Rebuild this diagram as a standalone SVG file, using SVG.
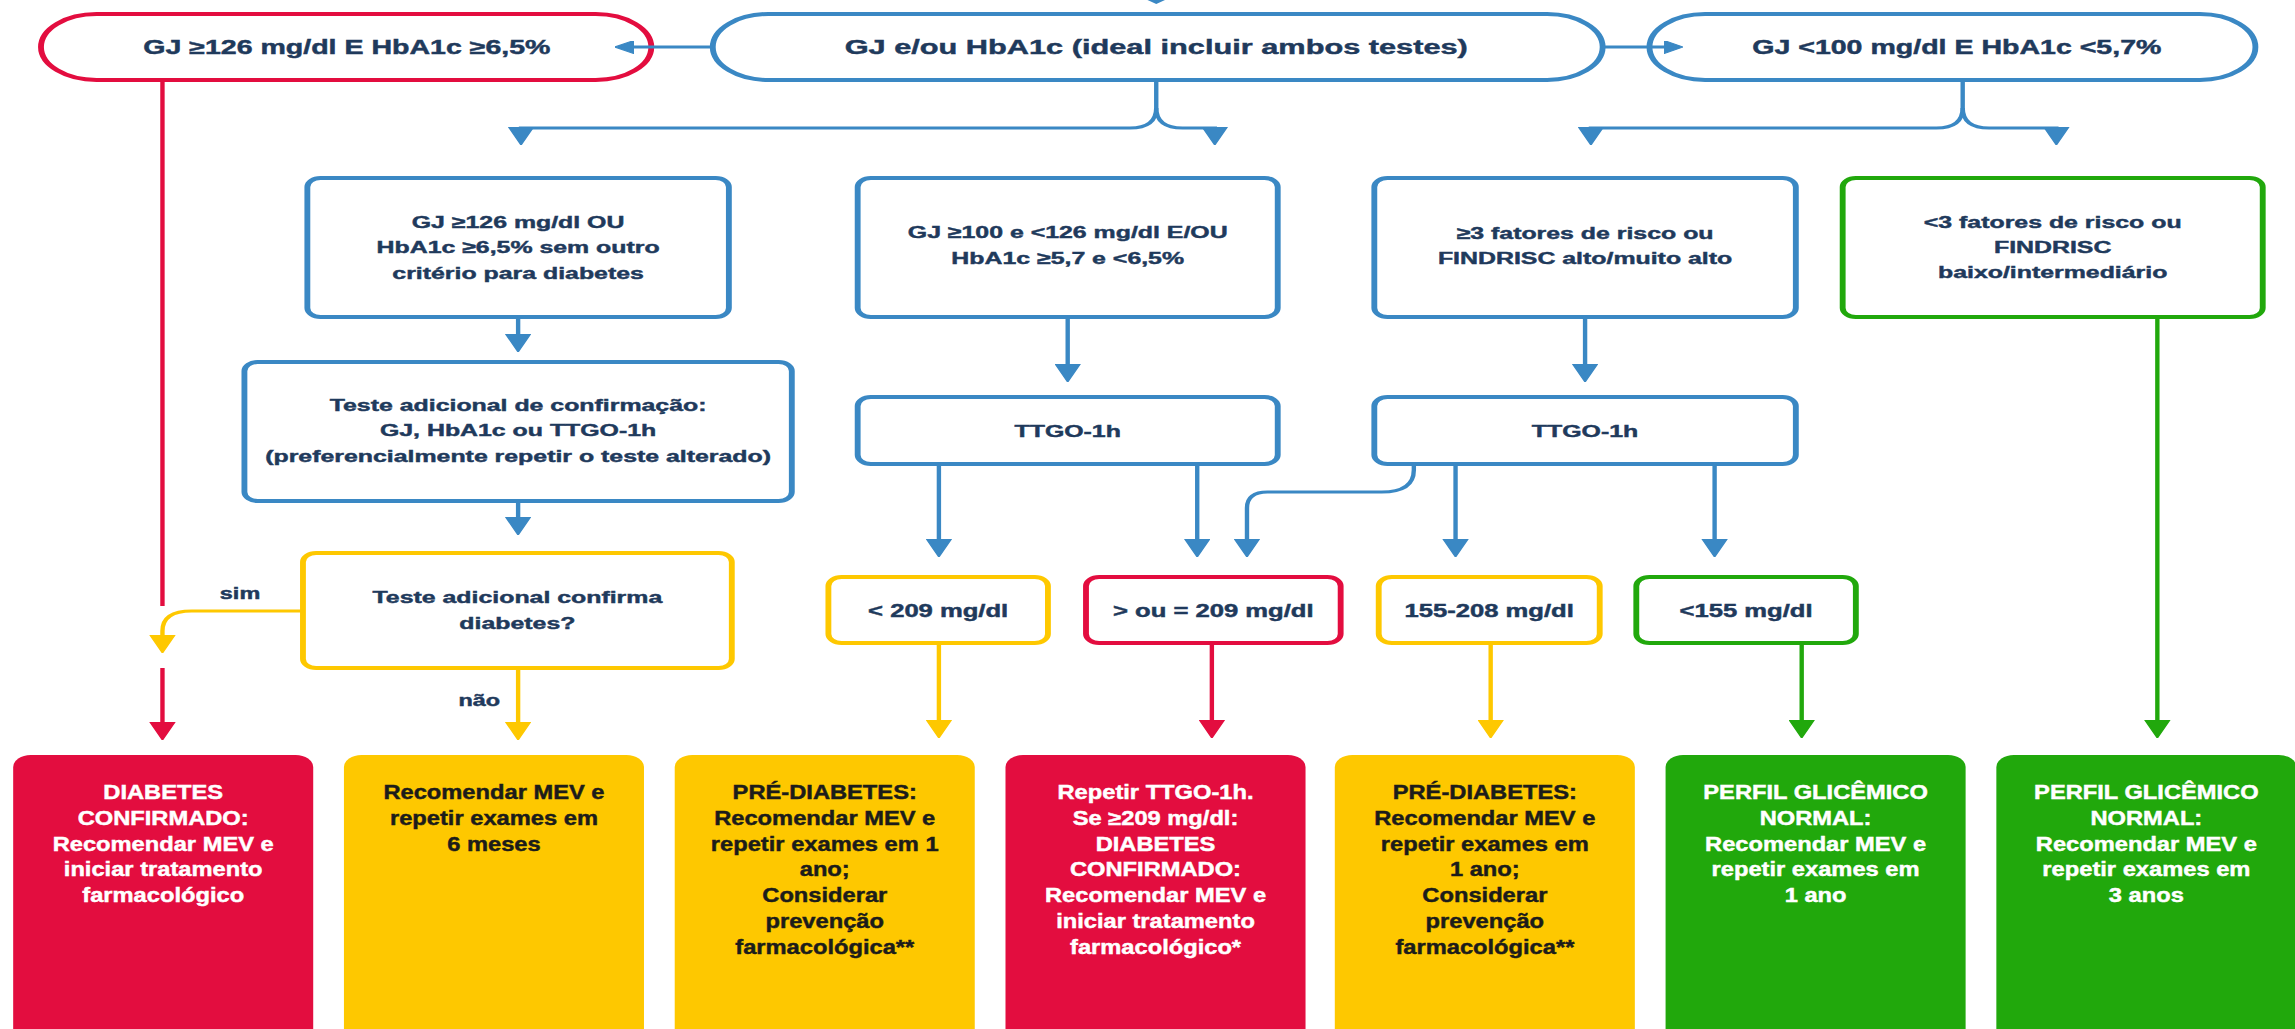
<svg xmlns="http://www.w3.org/2000/svg" width="2295" height="1029" viewBox="0 0 2295 1029">
<defs>
<style>
.t{font-family:"Liberation Sans",Arial,sans-serif;font-weight:700;fill:#1f3a5c;stroke:#1f3a5c;stroke-width:.45;text-anchor:middle}
.tp{font-size:19.5px}
.tq{font-size:21px}
.tx{font-size:17px}
.ts{font-size:17.5px}
.tl{font-size:16px}
.bt{font-size:19.5px;transform-box:fill-box;transform-origin:center;transform:scaleX(.83)}
.w{fill:#fff;stroke:#fff}
.k{fill:#1c1c1a;stroke:#1c1c1a}
.bb{fill:#fff;stroke:#3a88c4;stroke-width:4}
.br{fill:#fff;stroke:#e30d3f;stroke-width:4}
.by{fill:#fff;stroke:#fec800;stroke-width:4}
.bg{fill:#fff;stroke:#21a80c;stroke-width:4}
.fr{fill:#e30d3f}
.fy{fill:#fec800}
.fg{fill:#21a80c}
.c{fill:none;stroke-width:3}
.cb{stroke:#3a88c4;marker-end:url(#mb)}
.cr{stroke:#e30d3f}
.cy{stroke:#fec800;marker-end:url(#my)}
.cg{stroke:#21a80c;marker-end:url(#mg)}
</style>
<marker id="mb" viewBox="0 0 18 18" refX="14" refY="9" markerWidth="18" markerHeight="18" markerUnits="userSpaceOnUse" orient="auto"><path d="M0,0.5 L18,9 L0,17.5 Z" fill="#3a88c4" stroke="#3a88c4" stroke-linejoin="round"/></marker>
<marker id="mr" viewBox="0 0 18 18" refX="14" refY="9" markerWidth="18" markerHeight="18" markerUnits="userSpaceOnUse" orient="auto"><path d="M0,0.5 L18,9 L0,17.5 Z" fill="#e30d3f" stroke="#e30d3f" stroke-linejoin="round"/></marker>
<marker id="my" viewBox="0 0 18 18" refX="14" refY="9" markerWidth="18" markerHeight="18" markerUnits="userSpaceOnUse" orient="auto"><path d="M0,0.5 L18,9 L0,17.5 Z" fill="#fec800" stroke="#fec800" stroke-linejoin="round"/></marker>
<marker id="mg" viewBox="0 0 18 18" refX="14" refY="9" markerWidth="18" markerHeight="18" markerUnits="userSpaceOnUse" orient="auto"><path d="M0,0.5 L18,9 L0,17.5 Z" fill="#21a80c" stroke="#21a80c" stroke-linejoin="round"/></marker>
<marker id="mh" viewBox="0 0 13 13" refX="10" refY="6.5" markerWidth="13" markerHeight="13" markerUnits="userSpaceOnUse" orient="auto"><path d="M0,0 L13,6.5 L0,13 Z" fill="#3a88c4" stroke="#3a88c4" stroke-linejoin="round"/></marker>
</defs>
<rect width="2295" height="1029" fill="#fff"/>
<!-- layout drawn in a 1568-wide frame, widened horizontally -->
<g transform="scale(1.4636,1)">

<!-- top row -->
<g id="n-diabetes-direto">
<rect class="br" x="28" y="14" width="417" height="66" rx="38" ry="33"/>
<text class="t tp" x="237" y="54">GJ ≥126 mg/dl E HbA1c ≥6,5%</text>
</g>
<g id="n-gj-hba1c">
<rect class="bb" x="487" y="14" width="608" height="66" rx="38" ry="33"/>
<text class="t tq" x="790" y="54">GJ e/ou HbA1c (ideal incluir ambos testes)</text>
</g>
<g id="n-normal-direto">
<rect class="bb" x="1127" y="14" width="414" height="66" rx="38" ry="33"/>
<text class="t tp" x="1337" y="54">GJ &lt;100 mg/dl E HbA1c &lt;5,7%</text>
</g>

<!-- second row -->
<g id="n-gj126-ou">
<rect class="bb" x="210" y="178" width="288" height="139" rx="9" ry="9"/>
<text class="t tx" x="354" y="228">GJ ≥126 mg/dl OU</text>
<text class="t tx" x="354" y="253">HbA1c ≥6,5% sem outro</text>
<text class="t tx" x="354" y="279">critério para diabetes</text>
</g>
<g id="n-gj100">
<rect class="bb" x="586" y="178" width="287" height="139" rx="9" ry="9"/>
<text class="t tx" x="729.5" y="238">GJ ≥100 e &lt;126 mg/dl E/OU</text>
<text class="t tx" x="729.5" y="264">HbA1c ≥5,7 e &lt;6,5%</text>
</g>
<g id="n-risco-alto">
<rect class="bb" x="939" y="178" width="288" height="139" rx="9" ry="9"/>
<text class="t tx" x="1083" y="239">≥3 fatores de risco ou</text>
<text class="t tx" x="1083" y="264">FINDRISC alto/muito alto</text>
</g>
<g id="n-risco-baixo">
<rect class="bg" x="1259" y="178" width="287" height="139" rx="9" ry="9"/>
<text class="t tx" x="1402.5" y="228">&lt;3 fatores de risco ou</text>
<text class="t tx" x="1402.5" y="253">FINDRISC</text>
<text class="t tx" x="1402.5" y="278">baixo/intermediário</text>
</g>

<!-- third row -->
<g id="n-teste-adicional">
<rect class="bb" x="167" y="362" width="374" height="139" rx="9" ry="9"/>
<text class="t tx" x="354" y="411">Teste adicional de confirmação:</text>
<text class="t tx" x="354" y="436">GJ, HbA1c ou TTGO-1h</text>
<text class="t tx" x="354" y="462">(preferencialmente repetir o teste alterado)</text>
</g>
<g id="n-ttgo-a">
<rect class="bb" x="586" y="397" width="287" height="67" rx="9" ry="9"/>
<text class="t tx" x="729.5" y="437">TTGO-1h</text>
</g>
<g id="n-ttgo-b">
<rect class="bb" x="939" y="397" width="288" height="67" rx="9" ry="9"/>
<text class="t tx" x="1083" y="437">TTGO-1h</text>
</g>

<!-- decision and result ranges -->
<g id="n-confirma">
<rect class="by" x="207" y="553" width="293" height="115" rx="9" ry="9"/>
<text class="t tx" x="353.5" y="603">Teste adicional confirma</text>
<text class="t tx" x="353.5" y="629">diabetes?</text>
</g>
<g id="n-menor209">
<rect class="by" x="566" y="577" width="150" height="66" rx="9" ry="9"/>
<text class="t ts" x="641" y="617">&lt; 209 mg/dl</text>
</g>
<g id="n-maior209">
<rect class="br" x="742" y="577" width="174" height="66" rx="9" ry="9"/>
<text class="t ts" x="829" y="617">&gt; ou = 209 mg/dl</text>
</g>
<g id="n-155-208">
<rect class="by" x="942" y="577" width="151" height="66" rx="9" ry="9"/>
<text class="t ts" x="1017.5" y="617">155-208 mg/dl</text>
</g>
<g id="n-menor155">
<rect class="bg" x="1118" y="577" width="150" height="66" rx="9" ry="9"/>
<text class="t ts" x="1193" y="617">&lt;155 mg/dl</text>
</g>

<!-- outcomes -->
<g id="n-out-diabetes">
<rect class="fr" x="9" y="755" width="205" height="290" rx="12" ry="12"/>
<text class="t bt w" x="111.5" y="799">DIABETES</text>
<text class="t bt w" x="111.5" y="825">CONFIRMADO:</text>
<text class="t bt w" x="111.5" y="851">Recomendar MEV e</text>
<text class="t bt w" x="111.5" y="876">iniciar tratamento</text>
<text class="t bt w" x="111.5" y="902">farmacológico</text>
</g>
<g id="n-out-6meses">
<rect class="fy" x="235" y="755" width="205" height="290" rx="12" ry="12"/>
<text class="t bt k" x="337.5" y="799">Recomendar MEV e</text>
<text class="t bt k" x="337.5" y="825">repetir exames em</text>
<text class="t bt k" x="337.5" y="851">6 meses</text>
</g>
<g id="n-out-prediabetes-a">
<rect class="fy" x="461" y="755" width="205" height="290" rx="12" ry="12"/>
<text class="t bt k" x="563.5" y="799">PRÉ-DIABETES:</text>
<text class="t bt k" x="563.5" y="825">Recomendar MEV e</text>
<text class="t bt k" x="563.5" y="851">repetir exames em 1</text>
<text class="t bt k" x="563.5" y="876">ano;</text>
<text class="t bt k" x="563.5" y="902">Considerar</text>
<text class="t bt k" x="563.5" y="928">prevenção</text>
<text class="t bt k" x="563.5" y="954">farmacológica**</text>
</g>
<g id="n-out-repetir">
<rect class="fr" x="687" y="755" width="205" height="290" rx="12" ry="12"/>
<text class="t bt w" x="789.5" y="799">Repetir TTGO-1h.</text>
<text class="t bt w" x="789.5" y="825">Se ≥209 mg/dl:</text>
<text class="t bt w" x="789.5" y="851">DIABETES</text>
<text class="t bt w" x="789.5" y="876">CONFIRMADO:</text>
<text class="t bt w" x="789.5" y="902">Recomendar MEV e</text>
<text class="t bt w" x="789.5" y="928">iniciar tratamento</text>
<text class="t bt w" x="789.5" y="954">farmacológico*</text>
</g>
<g id="n-out-prediabetes-b">
<rect class="fy" x="912" y="755" width="205" height="290" rx="12" ry="12"/>
<text class="t bt k" x="1014.5" y="799">PRÉ-DIABETES:</text>
<text class="t bt k" x="1014.5" y="825">Recomendar MEV e</text>
<text class="t bt k" x="1014.5" y="851">repetir exames em</text>
<text class="t bt k" x="1014.5" y="876">1 ano;</text>
<text class="t bt k" x="1014.5" y="902">Considerar</text>
<text class="t bt k" x="1014.5" y="928">prevenção</text>
<text class="t bt k" x="1014.5" y="954">farmacológica**</text>
</g>
<g id="n-out-normal-1ano">
<rect class="fg" x="1138" y="755" width="205" height="290" rx="12" ry="12"/>
<text class="t bt w" x="1240.5" y="799">PERFIL GLICÊMICO</text>
<text class="t bt w" x="1240.5" y="825">NORMAL:</text>
<text class="t bt w" x="1240.5" y="851">Recomendar MEV e</text>
<text class="t bt w" x="1240.5" y="876">repetir exames em</text>
<text class="t bt w" x="1240.5" y="902">1 ano</text>
</g>
<g id="n-out-normal-3anos">
<rect class="fg" x="1364" y="755" width="205" height="290" rx="12" ry="12"/>
<text class="t bt w" x="1466.5" y="799">PERFIL GLICÊMICO</text>
<text class="t bt w" x="1466.5" y="825">NORMAL:</text>
<text class="t bt w" x="1466.5" y="851">Recomendar MEV e</text>
<text class="t bt w" x="1466.5" y="876">repetir exames em</text>
<text class="t bt w" x="1466.5" y="902">3 anos</text>
</g>

<!-- connectors -->
<g id="connectors">
<path d="M784,0 L796,0 L790,4 Z" fill="#3a88c4"/>
<path class="c" stroke="#3a88c4" marker-end="url(#mh)" d="M487,47 H423"/>
<path class="c" stroke="#3a88c4" marker-end="url(#mh)" d="M1095,47 H1147"/>
<path class="c cb" d="M790,80 V108 Q790,128 772,128 H356 V141"/>
<path class="c cb" d="M790,108 Q790,128 808,128 H830 V141"/>
<path class="c cb" d="M1341,80 V108 Q1341,128 1323,128 H1087 V141"/>
<path class="c cb" d="M1341,108 Q1341,128 1359,128 H1405 V141"/>
<path class="c cb" d="M354,317 V348"/>
<path class="c cb" d="M354,501 V531"/>
<path class="c cb" d="M729.5,317 V378"/>
<path class="c cb" d="M1083,317 V378"/>
<path class="c cb" d="M641.5,464 V553"/>
<path class="c cb" d="M818,464 V553"/>
<path class="c cb" d="M966,464 V470 Q966,492 944,492 H866 Q852,492 852,508 V553"/>
<path class="c cb" d="M994.5,464 V553"/>
<path class="c cb" d="M1171.5,464 V553"/>
<path class="c cr" d="M111,80 V606"/>
<path class="c cr" marker-end="url(#mr)" d="M111,668 V736"/>
<path class="c cy" d="M207,611 H131 Q111,611 111,631 V649"/>
<text class="t tl" x="164" y="599">sim</text>
<path class="c cy" d="M354,668 V736"/>
<text class="t tl" x="327.5" y="706">não</text>
<path class="c cy" d="M641.5,643 V734"/>
<path class="c cr" marker-end="url(#mr)" d="M828,643 V734"/>
<path class="c cy" d="M1018.5,643 V734"/>
<path class="c cg" d="M1231,643 V734"/>
<path class="c cg" d="M1474,317 V734"/>
</g>
</g>
</svg>
